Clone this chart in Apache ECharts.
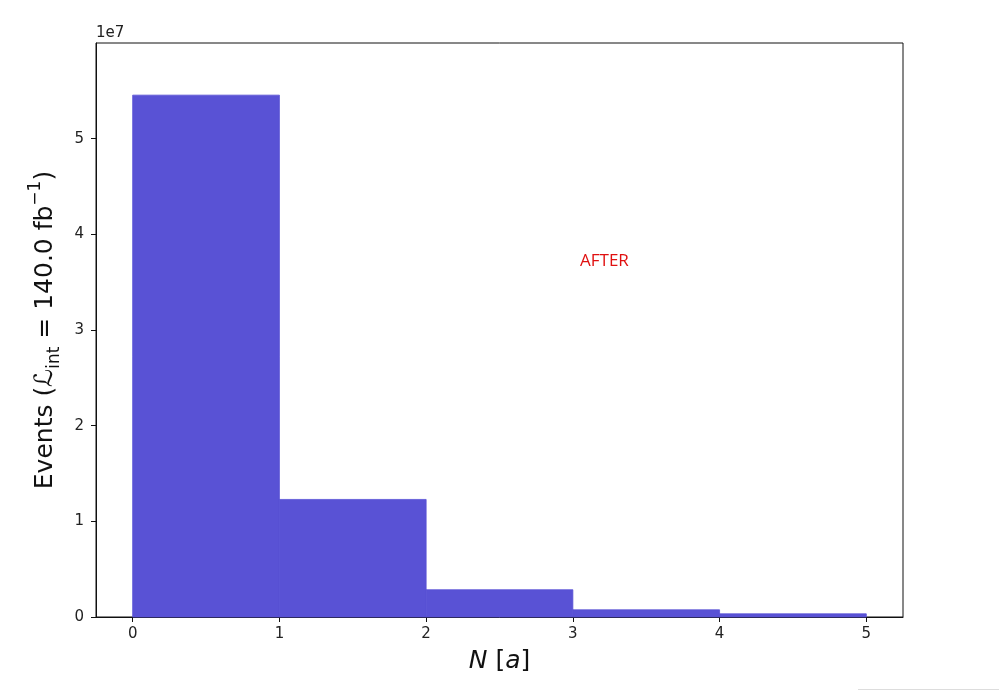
<!DOCTYPE html>
<html>
<head>
<meta charset="utf-8">
<script src="https://cdn.jsdelivr.net/npm/echarts@6/dist/echarts.min.js"></script>
<style>html,body{margin:0;padding:0;background:#fff;}#c{width:999px;height:691px;}</style>
</head>
<body>
<div id="c"></div>
<script>
const binEdges = [0, 1, 2, 3, 4, 5];
const counts = [5.455e7, 1.229e7, 0.285e7, 0.075e7, 0.033e7];
const xTicks = [0, 1, 2, 3, 4, 5];
const yTicks = [0, 1e7, 2e7, 3e7, 4e7, 5e7];

const barData = counts.map((c, i) => [binEdges[i], binEdges[i + 1], c]);
const font = 'DejaVu Sans';
const barColor = '#5952d5';
const chart = echarts.init(document.getElementById('c'), null, {renderer: 'canvas'});
chart.setOption({
  animation: false,
  backgroundColor: '#fff',
  grid: {left: 96, right: 96, top: 43, bottom: 74, show: true, borderColor: '#111', borderWidth: 1, backgroundColor: 'transparent'},
  xAxis: {
    type: 'value', min: -0.25, max: 5.25,
    name: '{it|N} [{it2|a}]', nameLocation: 'middle', nameGap: 32,
    nameTextStyle: {fontFamily: font, fontSize: 25, color: '#111', rich: {it: {fontFamily: font, fontSize: 25, fontStyle: 'italic', color: '#111'}, it2: {fontFamily: font, fontSize: 25, fontStyle: 'italic', color: '#111'}}},
    axisLine: {show: true, onZero: false, lineStyle: {color: '#111', width: 1}},
    axisTick: {show: true, length: 5, customValues: xTicks, lineStyle: {color: '#111'}},
    axisLabel: {customValues: xTicks, fontFamily: font, fontSize: 15, color: '#222', margin: 10},
    splitLine: {show: false}
  },
  yAxis: {
    type: 'value', min: 0, max: 6e7,
    name: 'Events ({L|ℒ}{sub|int} = 140.0 fb{sup|−1})', nameLocation: 'middle', nameGap: 30, nameRotate: 90,
    nameTextStyle: {fontFamily: font, fontSize: 25, color: '#111', rich: {
      L: {fontFamily: font, fontSize: 25, color: '#111'},
      sub: {fontFamily: font, fontSize: 17, color: '#111', verticalAlign: 'bottom', lineHeight: 36},
      sup: {fontFamily: font, fontSize: 17, color: '#111', verticalAlign: 'top', lineHeight: 36}
    }},
    axisLine: {show: true, onZero: false, lineStyle: {color: '#111', width: 1}},
    axisTick: {show: true, length: 5, customValues: yTicks, lineStyle: {color: '#111'}},
    axisLabel: {customValues: yTicks, fontFamily: font, fontSize: 15, color: '#222', margin: 12, formatter: v => String(Math.round(v / 1e7))},
    splitLine: {show: false}
  },
  graphic: [
    {type: 'text', left: 96, top: 26, style: {text: '1e7', font: '15px "DejaVu Sans"', fill: '#222'}},
    {type: 'text', left: 580, top: 253, style: {text: 'AFTER', font: '17px "Open Sans"', fill: '#e01010'}},
    {type: 'line', shape: {x1: 858, y1: 689.5, x2: 999, y2: 689.5}, style: {stroke: '#dddddd', lineWidth: 1}}
  ],
  series: [{
    type: 'custom',
    data: barData,
    encode: {x: [0, 1], y: 2},
    renderItem: function (params, api) {
      const p0 = api.coord([api.value(0), api.value(2)]);
      const p1 = api.coord([api.value(1), 0]);
      return {type: 'rect', shape: {x: p0[0], y: p0[1], width: p1[0] - p0[0], height: p1[1] - p0[1]}, style: {fill: barColor, stroke: barColor, lineWidth: 0.8}};
    }
  }]
});
</script>
</body>
</html>
